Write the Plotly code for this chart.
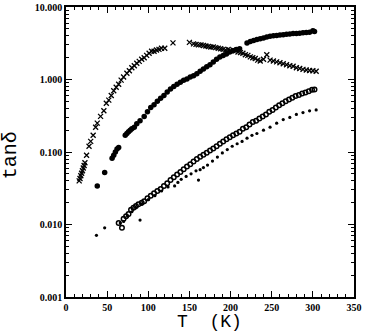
import plotly.graph_objects as go

# Series 1: crosses
cross_T = [16, 17, 18, 19, 20, 21, 22, 23, 25, 28, 30, 33, 36, 38, 42, 46, 49, 52, 55, 58,
           61, 64, 67, 70, 74, 77, 80, 83, 86, 89, 92, 95, 98, 101, 104, 107, 110, 113, 116,
           120, 130, 150, 155, 158, 161, 164, 167, 170, 173, 176, 179, 182, 185, 188, 191,
           194, 197, 200, 203, 206, 209, 212, 215, 218, 221, 224, 227, 230, 233, 236, 240,
           244, 248, 252, 256, 260, 264, 268, 272, 276, 280, 284, 288, 292, 296, 300, 304]
cross_tan = [0.040, 0.043, 0.047, 0.051, 0.055, 0.060, 0.065, 0.071, 0.090, 0.12, 0.14, 0.17,
             0.22, 0.25, 0.31, 0.37, 0.47, 0.52, 0.60, 0.70, 0.78, 0.86, 0.98, 1.08, 1.22,
             1.32, 1.45, 1.55, 1.68, 1.78, 1.90, 2.0, 2.15, 2.3, 2.45, 2.45, 2.55, 2.6, 2.7,
             2.7, 3.2, 3.25, 3.1, 3.05, 3.0, 3.0, 2.95, 2.9, 2.85, 2.8, 2.8, 2.75, 2.7, 2.65,
             2.6, 2.55, 2.6, 2.5, 2.55, 2.5, 2.4, 2.35, 2.3, 2.2, 2.15, 2.05, 2.0, 1.95, 1.85,
             1.8, 1.9, 2.2, 1.85, 1.8, 1.75, 1.7, 1.65, 1.6, 1.55, 1.52, 1.45, 1.42, 1.38,
             1.35, 1.33, 1.32, 1.3]

# Series 2: large filled circles
fill_T = [38, 47, 56, 58, 60, 62, 64, 72, 74, 76, 78, 80, 83, 86, 90, 95, 99, 103, 107, 111,
          115, 119, 123, 127, 131, 135, 139, 143, 147, 151, 155, 159, 163, 167, 171, 175,
          179, 183, 187, 191, 195, 199, 203, 207, 211, 220, 224, 228, 232, 236, 240, 244,
          248, 252, 256, 260, 264, 268, 272, 276, 280, 284, 288, 292, 296, 300, 302]
fill_tan = [0.034, 0.052, 0.082, 0.09, 0.10, 0.11, 0.115, 0.17, 0.18, 0.19, 0.2, 0.21, 0.22,
            0.245, 0.27, 0.31, 0.36, 0.41, 0.45, 0.50, 0.55, 0.60, 0.67, 0.74, 0.80, 0.86,
            0.92, 0.98, 1.02, 1.08, 1.13, 1.2, 1.3, 1.4, 1.5, 1.6, 1.75, 1.9, 2.05, 2.15,
            2.25, 2.4, 2.5, 2.6, 2.65, 3.2, 3.35, 3.45, 3.55, 3.65, 3.75, 3.85, 3.95, 4.0,
            4.05, 4.1, 4.15, 4.2, 4.25, 4.3, 4.3, 4.35, 4.4, 4.45, 4.5, 4.7, 4.6]

# Series 3: open circles
open_T = [64, 68, 70, 73, 76, 79, 82, 85, 88, 92, 95, 99, 103, 107, 111, 115, 119, 123, 127,
          131, 135, 139, 143, 147, 151, 155, 159, 163, 167, 171, 175, 179, 183, 187, 191,
          195, 199, 203, 207, 211, 215, 219, 223, 227, 231, 235, 239, 243, 247, 251, 255,
          259, 263, 267, 271, 275, 279, 283, 287, 291, 295, 299, 302]
open_tan = [0.0105, 0.009, 0.012, 0.013, 0.014, 0.016, 0.017, 0.018, 0.019, 0.020, 0.021,
            0.023, 0.025, 0.027, 0.029, 0.031, 0.034, 0.037, 0.041, 0.045, 0.049, 0.053,
            0.058, 0.063, 0.068, 0.074, 0.080, 0.086, 0.092, 0.098, 0.105, 0.112, 0.12,
            0.13, 0.14, 0.15, 0.16, 0.17, 0.18, 0.19, 0.21, 0.22, 0.24, 0.26, 0.27, 0.29,
            0.31, 0.33, 0.36, 0.38, 0.41, 0.44, 0.47, 0.50, 0.53, 0.56, 0.59, 0.61, 0.64,
            0.66, 0.69, 0.72, 0.73]

# Series 4: small dots
dot_T = [37, 47, 66, 70, 75, 80, 85, 90, 92, 100, 108, 116, 124, 132, 136, 140, 146, 152,
         158, 161, 163, 167, 172, 178, 184, 190, 196, 202, 208, 214, 220, 226, 232, 240,
         248, 256, 264, 272, 280, 288, 296, 304]
dot_tan = [0.0071, 0.0090, 0.0105, 0.011, 0.013, 0.015, 0.017, 0.0115, 0.019, 0.022, 0.025,
           0.029, 0.033, 0.034, 0.038, 0.042, 0.046, 0.05, 0.055, 0.041, 0.057, 0.061,
           0.066, 0.075, 0.085, 0.097, 0.108, 0.12, 0.13, 0.14, 0.155, 0.17, 0.18, 0.20,
           0.22, 0.25, 0.28, 0.30, 0.33, 0.35, 0.37, 0.38]

y_tickvals = [0.001, 0.01, 0.1, 1, 10]
y_ticktext = ["0.001", "0.010", "0.100", "1.000", "10.000"]
x_tickvals = [0, 50, 100, 150, 200, 250, 300, 350]

y_minor = [m * 10.0 ** e for e in range(-3, 1) for m in range(2, 10)]

fig = go.Figure()
fig.add_trace(go.Scatter(x=cross_T, y=cross_tan, mode="markers",
                         marker=dict(symbol="x-thin", size=5, line=dict(width=1.3, color="black"),
                                     color="black")))
fig.add_trace(go.Scatter(x=fill_T, y=fill_tan, mode="markers",
                         marker=dict(symbol="circle", size=5.5, color="black")))
fig.add_trace(go.Scatter(x=open_T, y=open_tan, mode="markers",
                         marker=dict(symbol="circle-open", size=4.5, color="black",
                                     line=dict(width=1.5, color="black"))))
fig.add_trace(go.Scatter(x=dot_T, y=dot_tan, mode="markers",
                         marker=dict(symbol="circle", size=3.2, color="black")))

tickfont = dict(family="Liberation Serif", size=10, color="black", weight="bold")

fig.update_layout(
    width=366, height=336,
    margin=dict(l=66, r=12, t=7, b=39),
    paper_bgcolor="white", plot_bgcolor="white",
    showlegend=False,
    xaxis=dict(range=[0, 350], tickvals=x_tickvals, ticks="inside", ticklen=6, tickwidth=1.2,
               tickcolor="black", mirror="allticks", showline=True, linecolor="black",
               linewidth=1.5, showgrid=False, zeroline=False, tickfont=tickfont,
               automargin=False, ticklabeloverflow="allow",
               minor=dict(dtick=10, ticks="inside", ticklen=3, tickwidth=1, tickcolor="black",
                          showgrid=False)),
    yaxis=dict(type="log", range=[-3, 1], tickvals=y_tickvals, ticktext=y_ticktext,
               ticks="inside", ticklen=6, tickwidth=1.2, tickcolor="black", mirror="allticks",
               showline=True, linecolor="black", linewidth=1.5, showgrid=False,
               zeroline=False, tickfont=tickfont, automargin=False, ticklabeloverflow="allow",
               minor=dict(tickvals=y_minor, ticks="inside", ticklen=3, tickwidth=1,
                          tickcolor="black", showgrid=False)),
    annotations=[
        dict(text="T  (K)", xref="paper", yref="paper", x=0.497, y=-0.086,
             xanchor="center", yanchor="middle", showarrow=False,
             font=dict(family="Liberation Mono", size=18, color="black")),
        dict(text="tanδ", xref="paper", yref="paper", x=-0.19, y=0.49,
             xanchor="center", yanchor="middle", showarrow=False, textangle=-90,
             font=dict(family="Liberation Mono", size=20, color="black")),
    ],
)

fig.write_html("out.html", config={"displayModeBar": False},
               post_script="document.body.style.margin='0';document.body.style.overflow='hidden';")
